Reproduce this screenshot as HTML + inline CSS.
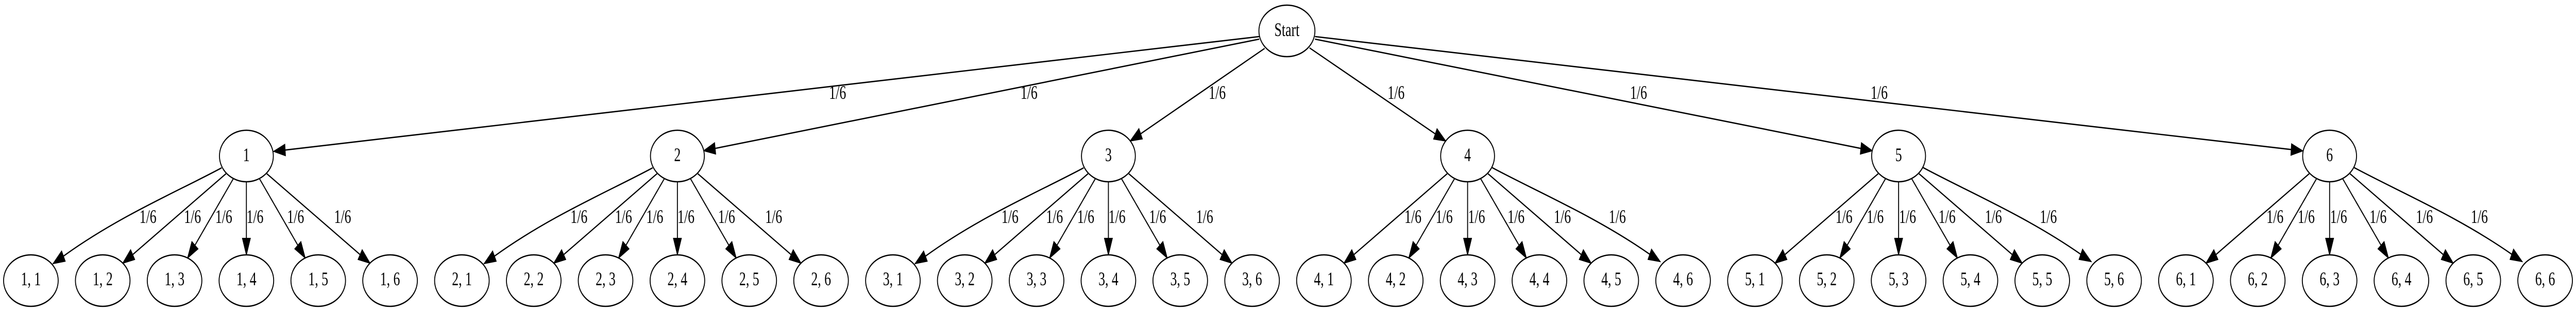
<!DOCTYPE html>
<html><head><meta charset="utf-8"><style>
html,body{margin:0;padding:0;background:#fff;overflow:hidden;width:100vw;height:100vh;}
svg{display:block;width:100vw;height:100vh;}
text{font-family:"Liberation Serif",serif;font-size:37px;fill:#000;text-anchor:middle;}
</style></head><body>
<svg id="s" viewBox="0 0 7172 606" preserveAspectRatio="none" xmlns="http://www.w3.org/2000/svg">
<g id="g" fill="none" stroke="#000" stroke-width="2.6"></g>
<g id="a" fill="#000" stroke="#000" stroke-width="2"></g>
<g id="n" fill="#fff" stroke="#000" stroke-width="2.6"></g>
<text x="3583" y="70">Start</text>
<text x="686" y="313">1</text><text x="1886" y="313">2</text><text x="3086" y="313">3</text>
<text x="4086" y="313">4</text><text x="5286" y="313">5</text><text x="6486" y="313">6</text>
<text x="2332" y="192">1/6</text><text x="2865" y="192">1/6</text><text x="3389" y="192">1/6</text>
<text x="3887" y="192">1/6</text><text x="4562" y="192">1/6</text><text x="5232" y="192">1/6</text>
<text x="86" y="554">1, 1</text><text x="286" y="554">1, 2</text><text x="486" y="554">1, 3</text><text x="686" y="554">1, 4</text><text x="886" y="554">1, 5</text><text x="1086" y="554">1, 6</text>
<text x="1286" y="554">2, 1</text><text x="1486" y="554">2, 2</text><text x="1686" y="554">2, 3</text><text x="1886" y="554">2, 4</text><text x="2086" y="554">2, 5</text><text x="2286" y="554">2, 6</text>
<text x="2486" y="554">3, 1</text><text x="2686" y="554">3, 2</text><text x="2886" y="554">3, 3</text><text x="3086" y="554">3, 4</text><text x="3286" y="554">3, 5</text><text x="3486" y="554">3, 6</text>
<text x="3686" y="554">4, 1</text><text x="3886" y="554">4, 2</text><text x="4086" y="554">4, 3</text><text x="4286" y="554">4, 4</text><text x="4486" y="554">4, 5</text><text x="4686" y="554">4, 6</text>
<text x="4886" y="554">5, 1</text><text x="5086" y="554">5, 2</text><text x="5286" y="554">5, 3</text><text x="5486" y="554">5, 4</text><text x="5686" y="554">5, 5</text><text x="5886" y="554">5, 6</text>
<text x="6086" y="554">6, 1</text><text x="6286" y="554">6, 2</text><text x="6486" y="554">6, 3</text><text x="6686" y="554">6, 4</text><text x="6886" y="554">6, 5</text><text x="7086" y="554">6, 6</text>
<text x="412" y="433">1/6</text><text x="536" y="433">1/6</text><text x="623" y="433">1/6</text><text x="710" y="433">1/6</text><text x="823" y="433">1/6</text><text x="954" y="433">1/6</text>
<text x="1612" y="433">1/6</text><text x="1736" y="433">1/6</text><text x="1823" y="433">1/6</text><text x="1910" y="433">1/6</text><text x="2023" y="433">1/6</text><text x="2154" y="433">1/6</text>
<text x="2812" y="433">1/6</text><text x="2936" y="433">1/6</text><text x="3023" y="433">1/6</text><text x="3110" y="433">1/6</text><text x="3223" y="433">1/6</text><text x="3354" y="433">1/6</text>
<text x="3934" y="433">1/6</text><text x="4021" y="433">1/6</text><text x="4111" y="433">1/6</text><text x="4221" y="433">1/6</text><text x="4350" y="433">1/6</text><text x="4503" y="433">1/6</text>
<text x="5134" y="433">1/6</text><text x="5221" y="433">1/6</text><text x="5311" y="433">1/6</text><text x="5421" y="433">1/6</text><text x="5550" y="433">1/6</text><text x="5703" y="433">1/6</text>
<text x="6334" y="433">1/6</text><text x="6421" y="433">1/6</text><text x="6511" y="433">1/6</text><text x="6621" y="433">1/6</text><text x="6750" y="433">1/6</text><text x="6903" y="433">1/6</text>
</svg>
<script>
var NS="http://www.w3.org/2000/svg";
function el(par,tag,at){var e=document.createElementNS(NS,tag);for(var k in at)e.setAttribute(k,at[k]);document.getElementById(par).appendChild(e);return e;}
function ep(cx,cy,rx,ry,tx,ty){var dx=tx-cx,dy=ty-cy;var t=1/Math.sqrt((dx/rx)*(dx/rx)+(dy/ry)*(dy/ry));return [cx+dx*t,cy+dy*t];}
function arrowLine(p0,tip){var dx=tip[0]-p0[0],dy=tip[1]-p0[1],L=Math.hypot(dx,dy);dx/=L;dy/=L;
 var b=[tip[0]-32*dx,tip[1]-32*dy];
 el("g","path",{d:"M"+p0[0]+" "+p0[1]+"L"+b[0]+" "+b[1]});
 head(tip,dx,dy);}
function head(tip,dx,dy){var b=[tip[0]-32*dx,tip[1]-32*dy];
 el("a","polygon",{points:tip[0]+","+tip[1]+" "+(b[0]-11*dy)+","+(b[1]+11*dx)+" "+(b[0]+11*dy)+","+(b[1]-11*dx)});}
function curve(p0,c1,c2,tip){var dx=tip[0]-c2[0],dy=tip[1]-c2[1],L=Math.hypot(dx,dy);dx/=L;dy/=L;
 var b=[tip[0]-32*dx,tip[1]-32*dy];
 el("g","path",{d:"M"+p0+"C"+c1+" "+c2+" "+b});head(tip,dx,dy);}
var P=[686,1886,3086,4086,5286,6486],PY=303;
var starts=[[3506,71],[3506,76],[3521,94],[3646,93],[3661,76],[3661,71]];
for(var i=0;i<6;i++){var s=starts[i];var tip;
 if(i==0)tip=[762,294];else if(i==5)tip=[6411,293];else tip=ep(P[i],PY,75,50,s[0],s[1]);
 arrowLine(s,tip);}
for(var g=0;g<6;g++){var pi=g<3?3:2;
 for(var j=0;j<6;j++){var lx=86+200*(g*6+j),k=j-pi,px=P[g];
  if(k==-3){curve([px-69,326],[px-186,370],[px-356,420],[px-538,512]);}
  else if(k==3){curve([px+67,325],[px+186,370],[px+356,420],[px+536,508]);}
  else{var s0=ep(px,PY,75,50,lx,545),t0=ep(lx,545,76,50,px,PY);arrowLine(s0,t0);}
 }}
el("n","ellipse",{cx:3583,cy:60,rx:78,ry:50});
for(var i=0;i<6;i++)el("n","ellipse",{cx:P[i],cy:PY,rx:75,ry:50});
for(var i=0;i<36;i++)el("n","ellipse",{cx:86+200*i,cy:545,rx:76,ry:50});
</script>
</body></html>
